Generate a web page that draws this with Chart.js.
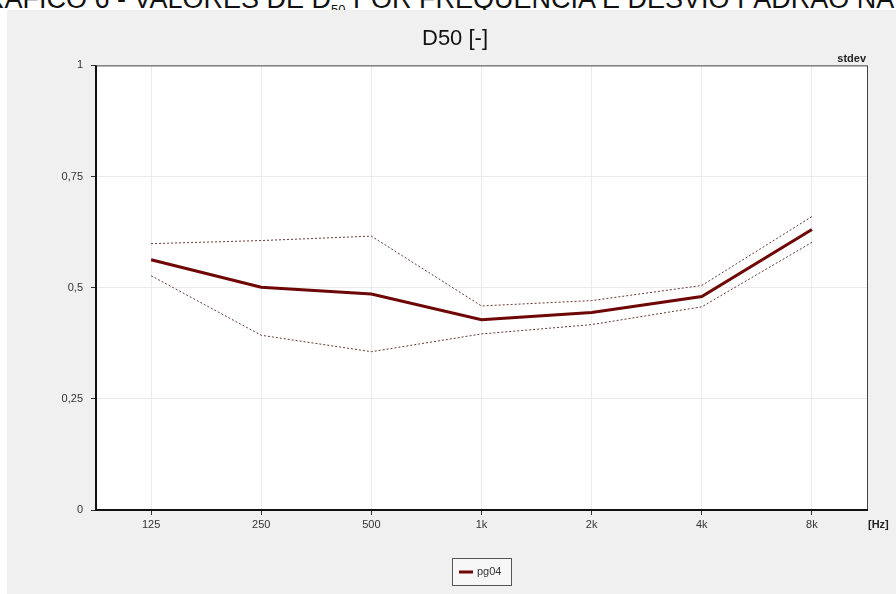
<!DOCTYPE html>
<html>
<head>
<meta charset="utf-8">
<script src="https://cdn.jsdelivr.net/npm/chart.js@4.4.1/dist/chart.umd.min.js"></script>
<style>
  html, body { margin: 0; padding: 0; background: #fff; overflow: hidden; }
  body { width: 896px; height: 594px; position: relative; }
  .caption {
    position: absolute; left: -36px; top: -16px; white-space: nowrap;
    font-family: "Liberation Sans", Arial, sans-serif; font-size: 27px; color: #111;
  }
  .caption sub { font-size: 13px; }
  .panel {
    position: absolute; left: 7px; top: 10px; width: 889px; height: 584px;
    background: #f0f0f0;
  }
</style>
</head>
<body>
<div class="caption">GRÁFICO 6 - VALORES DE D<sub>50</sub> POR FREQUÊNCIA E DESVIO PADRÃO NA</div>
<div class="panel"><canvas id="d50" width="889" height="584"></canvas></div>
<script>
// frequências (bandas de oitava)
const bands = ["125", "250", "500", "1k", "2k", "4k", "8k"];
const yTicks = [0, 0.25, 0.5, 0.75, 1];

// D50 médio e envelope do desvio padrão
const d50 = [0.563, 0.501, 0.486, 0.428, 0.444, 0.480, 0.631];
const stdUpper = [0.599, 0.606, 0.616, 0.459, 0.471, 0.505, 0.660];
const stdLower = [0.527, 0.393, 0.356, 0.396, 0.417, 0.457, 0.602];

const mainColor = "#6e0606";
const devColor = "#6a3838";
const font = "'Liberation Sans', Arial, sans-serif";

// fundo branco da área de plotagem + moldura, legenda e rótulos extras
const frame = {
  id: "frame",
  beforeDraw(chart) {
    const { ctx, chartArea: a } = chart;
    ctx.save();
    ctx.fillStyle = "#fff";
    ctx.fillRect(a.left, a.top, a.right - a.left, a.bottom - a.top);
    ctx.restore();
  },
  afterDraw(chart) {
    const { ctx, chartArea: a } = chart;
    ctx.save();
    // moldura
    ctx.strokeStyle = "#444";
    ctx.lineWidth = 1;
    ctx.strokeRect(a.left + 0.5, a.top + 0.5, a.right - a.left, a.bottom - a.top);
    ctx.strokeStyle = "#111";
    ctx.lineWidth = 2;
    ctx.beginPath();
    ctx.moveTo(a.left, a.top);
    ctx.lineTo(a.left, a.bottom);
    ctx.lineTo(a.right + 1, a.bottom);
    ctx.stroke();

    // "stdev" e "[Hz]"
    ctx.fillStyle = "#222";
    ctx.font = "bold 11px " + font;
    ctx.textAlign = "right";
    ctx.textBaseline = "middle";
    ctx.fillText("stdev", a.right - 1, a.top - 6);
    ctx.textAlign = "left";
    ctx.fillText("[Hz]", a.right + 1, a.bottom + 15);

    // legenda
    const ds = chart.data.datasets[0];
    const cx = (a.left + a.right) / 2;
    const bx = Math.round(cx - 29.5), by = a.bottom + 48, bw = 59, bh = 27;
    ctx.fillStyle = "#f7f7f7";
    ctx.fillRect(bx, by, bw, bh);
    ctx.strokeStyle = "#555";
    ctx.lineWidth = 1;
    ctx.strokeRect(bx + 0.5, by + 0.5, bw, bh);
    ctx.strokeStyle = ds.borderColor;
    ctx.lineWidth = 3;
    ctx.beginPath();
    ctx.moveTo(bx + 7, by + 14);
    ctx.lineTo(bx + 21, by + 14);
    ctx.stroke();
    ctx.fillStyle = "#333";
    ctx.font = "11px " + font;
    ctx.textAlign = "left";
    ctx.fillText(ds.label, bx + 25, by + 14);
    ctx.restore();
  }
};

new Chart(document.getElementById("d50"), {
  type: "line",
  data: {
    labels: bands,
    datasets: [
      { label: "pg04", data: d50, borderColor: mainColor, borderWidth: 3, pointRadius: 0, tension: 0, order: 0 },
      { label: "stdev+", data: stdUpper, borderColor: devColor, borderWidth: 1, borderDash: [2, 2], pointRadius: 0, order: 1 },
      { label: "stdev-", data: stdLower, borderColor: devColor, borderWidth: 1, borderDash: [2, 2], pointRadius: 0, order: 1 }
    ]
  },
  options: {
    responsive: false,
    animation: false,
    layout: { padding: { left: 36, right: 29, top: 0, bottom: 0 }, autoPadding: false },
    plugins: {
      legend: { display: false },
      tooltip: { enabled: false },
      title: {
        display: true,
        text: "D50 [-]",
        color: "#111",
        font: { family: font, size: 22, weight: "normal" },
        padding: { top: 16, bottom: 13 }
      }
    },
    scales: {
      x: {
        offset: true,
        grid: { color: "#ebebeb", tickColor: "#333", tickLength: 5 },
        border: { display: false },
        ticks: { color: "#333", font: { family: font, size: 11 }, padding: 3, maxRotation: 0 },
        afterFit(scale) { scale.height = 84; }
      },
      y: {
        min: 0,
        max: 1,
        afterBuildTicks(scale) { scale.ticks = yTicks.map(v => ({ value: v })); },
        grid: { color: "#ebebeb", tickColor: "#333", tickLength: 5 },
        border: { display: false },
        ticks: {
          color: "#333",
          font: { family: font, size: 11 },
          padding: 8,
          callback: v => String(v).replace(".", ",")
        },
        afterFit(scale) { scale.width = 53; }
      }
    }
  },
  plugins: [frame]
});
</script>
</body>
</html>
